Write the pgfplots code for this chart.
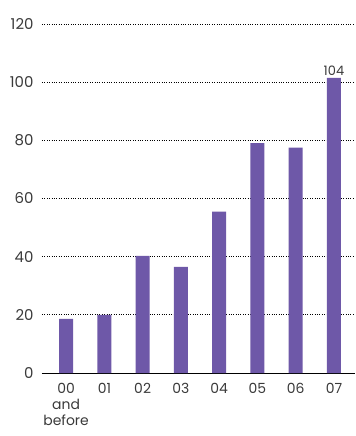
\documentclass[border=0pt]{standalone}
\usepackage{pgfplots}
\pgfplotsset{compat=1.18}
\usepackage{fontspec}
\setmainfont{Poppins}
\definecolor{barpurple}{HTML}{6E58A8}
\definecolor{txt}{HTML}{3A3A3A}
\begin{document}
\begin{tikzpicture}
\begin{axis}[
  name=ax,
  scale only axis,
  width=313bp, height=349bp,
  xmin=-0.63, xmax=7.55,
  ymin=0, ymax=120,
  axis x line=bottom,
  axis y line=left,
  x axis line style={black, line width=0.8pt, -},
  y axis line style={draw=none},
  ytick={0,20,...,120},
  xtick={0,...,7},
  xticklabels={{00\\and\\before},01,02,03,04,05,06,07},
  xticklabel style={align=center, font=\fontsize{14}{16}\selectfont, text=txt, yshift=-7pt},
  yticklabel style={font=\fontsize{15}{15}\selectfont, text=txt, xshift=-5pt},
  /pgf/number format/assume math mode=true,
  major tick length=0pt,
  ymajorgrids,
  grid style={black, dotted, line width=0.7pt},
  clip=false,
]
\addplot[ybar, bar width=14bp, fill=barpurple, draw=none] coordinates {
(0,18.6) (1,20) (2,40.3) (3,36.5) (4,55.5) (5,79) (6,77.5) (7,101.5)};
\addplot[only marks, mark=none, nodes near coords=104, every node near coord/.append style={font=\fontsize{13}{13}\selectfont, text=txt, anchor=south, yshift=-1pt}] coordinates {(7,101.5)};
\end{axis}
\path ([shift={(-42bp,-63bp)}]ax.south west) rectangle ([shift={(0bp,24bp)}]ax.north east);
\end{tikzpicture}
\end{document}
